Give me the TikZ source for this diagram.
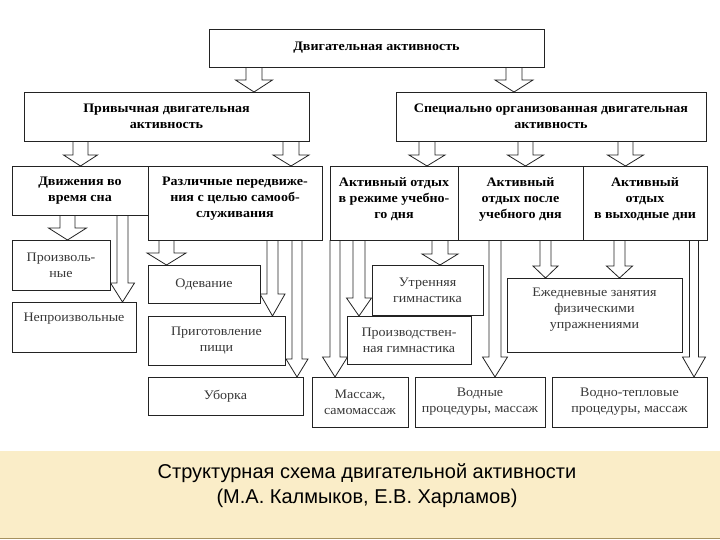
\documentclass[tikz,border=0pt]{standalone}
\usepackage{fontspec}
\setmainfont{Liberation Serif}[FakeStretch=1.08]
\newfontfamily\capfont{Liberation Sans}
\usetikzlibrary{calc}
\pgfdeclarelayer{bg}
\pgfsetlayers{bg,main}
\definecolor{capfill}{RGB}{250,237,200}
\definecolor{capedge}{RGB}{165,145,95}
\definecolor{lineclr}{RGB}{35,35,35}
\newcommand\bx[7]{\node[#1, minimum width=#5pt-#3pt, minimum height=#6pt-#4pt] (#2) at ({(#3+#5)/2},{(#4+#6)/2}) {#7};}
\newcommand\barr[6]{%
  \coordinate (bs) at (#3,0 |- #1.south);
  \coordinate (bt) at (#3,0 |- #2.north);
  \filldraw[blockarrow] ($(bs)+(-#4,0)$) -- ($(bt)+(-#4,-#6)$) -- ($(bt)+(-#5,-#6)$) -- (bt) -- ($(bt)+(#5,-#6)$) -- ($(bt)+(#4,-#6)$) -- ($(bs)+(#4,0)$);}
\begin{document}
\begin{tikzpicture}[x=1pt,y=-1pt,
  box/.style={draw=lineclr, line width=0.8pt, fill=white, inner sep=2pt, outer sep=0pt, align=center},
  hd/.style={box, font=\bfseries\fontsize{13}{16}\selectfont, text=black},
  lo/.style={box, font=\fontsize{13}{16}\selectfont, text=black!78},
  blockarrow/.style={draw=lineclr, line width=0.8pt, fill=white, line join=miter}]
\useasboundingbox (0,0) rectangle (720,540);
% level 1-2
\bx{hd}{top}{209}{29}{544}{67}{Двигательная активность}
\bx{hd}{hab}{24}{92}{309}{141}{Привычная двигательная\\активность}
\bx{hd}{spec}{396}{92}{706}{141}{Специально организованная двигательная\\активность}
% level 3
\bx{hd}{sleep}{12}{166}{148}{215}{Движения во\\время сна}
\bx{hd}{self}{148}{166}{322}{240}{Различные передвиже-\\ния с целью самооб-\\служивания\\[-4pt]~}
\bx{hd}{c1}{330}{166}{458}{240}{Активный отдых\\в режиме учебно-\\го дня\\[-6pt]~}
\bx{hd}{c2}{458}{166}{583}{240}{Активный\\отдых после\\учебного дня\\[-6pt]~}
\bx{hd}{c3}{583}{166}{707}{240}{Активный\\отдых\\в выходные дни\\[-6pt]~}
% level 4
\bx{lo}{vol}{12}{240}{110}{290}{Произволь-\\ные}
\bx{lo}{invol}{12}{302}{136}{352}{Непроизвольные\\[4pt]~}
\bx{lo}{dress}{148}{265}{260}{303}{Одевание}
\bx{lo}{cook}{148}{316}{285}{365}{Приготовление\\пищи}
\bx{lo}{clean}{148}{377}{303}{415}{Уборка}
\bx{lo}{morn}{372}{265}{483}{315}{Утренняя\\гимнастика}
\bx{lo}{prod}{347}{316}{471}{364}{Производствен-\\ная гимнастика}
\bx{lo}{daily}{507}{278}{682}{352}{Ежедневные занятия\\физическими\\упражнениями\\[-2pt]~}
\bx{lo}{mass}{312}{377}{408}{427}{Массаж,\\самомассаж}
\bx{lo}{water}{415}{377}{545}{427}{Водные\\процедуры, массаж}
\bx{lo}{heat}{552}{377}{707}{427}{Водно-тепловые\\процедуры, массаж}
% block arrows
\begin{pgfonlayer}{bg}
\fill[white] (0,0) rectangle (720,540);
\barr{top}{hab}{254}{8}{18.5}{12}
\barr{top}{spec}{514}{8}{19}{12}
\barr{hab}{sleep}{80.5}{7.5}{17}{11}
\barr{hab}{self}{291}{8}{18}{11}
\barr{spec}{c1}{427}{8}{18}{11}
\barr{spec}{c2}{525.5}{7.5}{18}{11}
\barr{spec}{c3}{625.5}{7.5}{18}{11}
\barr{sleep}{vol}{67.5}{7.5}{19}{12}
\barr{sleep}{invol}{122.5}{5.5}{12}{19}
\barr{self}{dress}{166.5}{7.5}{19.5}{12}
\barr{self}{cook}{272.5}{5.5}{12.5}{22}
\barr{self}{clean}{297}{5}{11}{18}
\barr{c1}{mass}{335}{5}{12.5}{20}
\barr{c1}{prod}{359}{6}{12.5}{18}
\barr{c1}{morn}{440}{8}{18}{11}
\barr{c2}{water}{495}{6}{12.5}{20}
\barr{c2}{daily}{545.5}{5.5}{12.5}{12}
\barr{c3}{daily}{619.5}{5.5}{13}{12}
\barr{c3}{heat}{694}{4.5}{11.5}{20}
\end{pgfonlayer}
% caption band
\fill[capfill] (0,451) rectangle (720,538);
\draw[capedge, line width=1pt] (0,538) -- (720,538);
\node[font=\capfont\fontsize{20}{25}\selectfont, text=black, align=center] (cap) at (367,485.5) {Структурная схема двигательной активности\\(М.А. Калмыков, Е.В. Харламов)};
\end{tikzpicture}
\end{document}
